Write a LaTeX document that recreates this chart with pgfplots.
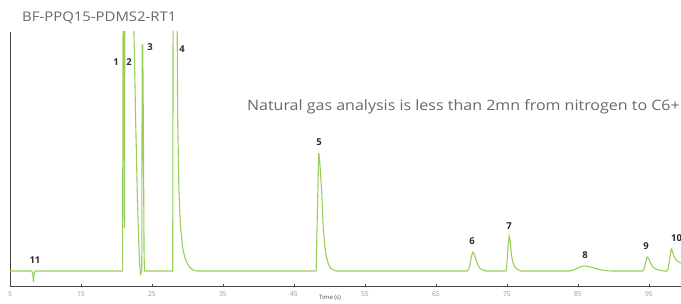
\documentclass[border=0pt]{standalone}
\usepackage{fontspec}
\setmainfont{Open Sans}
\newfontfamily\widefont[FakeStretch=1.12]{Open Sans}
\usepackage{pgfplots}
\pgfplotsset{compat=1.18}
\definecolor{trace}{RGB}{152,206,92}
\definecolor{axisgray}{RGB}{70,70,70}
\definecolor{ticklab}{RGB}{150,150,150}
\definecolor{titlegray}{RGB}{105,105,105}
\definecolor{labgray}{RGB}{45,45,45}
\begin{document}
\begin{tikzpicture}[x=1pt,y=1pt]
\path[use as bounding box] (0,0) rectangle (681,303);
\begin{axis}[
  at={(10pt,17pt)}, anchor=south west,
  scale only axis, width=671pt, height=254pt,
  xmin=5, xmax=99.51, ymin=-15, ymax=239,
  axis x line=bottom, axis y line=left,
  axis line style={-, draw=axisgray, line width=0.8pt},
  xtick={5,15,...,95}, ytick=\empty,
  major tick length=3pt, tick align=center,
  tick style={draw=axisgray, line width=0.6pt},
  xticklabel style={font=\fontsize{6.8}{8}\selectfont, text=ticklab, yshift=-1pt},
  /pgf/number format/assume math mode=true,
  clip mode=individual,
]
\addplot[trace, line width=1.1pt] coordinates {
(5,0) (8.05,0) (8.22,-3) (8.3,-11) (8.38,-3) (8.55,0)
(20.86,0) (20.94,300) (21.04,300) (21.12,43) (21.18,300)
(22.4,300) (22.46,239) (22.7,150) (22.95,72) (23.15,26) (23.3,2) (23.4,-3) (23.5,-1) (23.56,0)
(23.62,226) (23.7,226) (23.78,150) (23.88,20) (23.93,0)
(27.92,0) (27.98,300) (28.5,300) (28.62,150) (28.8,78) (29.0,46) (29.3,24) (29.6,14) (30.0,7) (30.4,3) (30.9,0.6) (31.4,0)
(47.95,0) (48.12,0.5) (48.3,60) (48.48,118) (48.6,112) (48.75,96) (48.9,80) (49.1,46) (49.35,24) (49.6,13) (49.9,6) (50.2,2.5) (50.8,0.3) (51.2,0)
(69.4,0) (69.6,1.5) (69.8,7) (70.0,15) (70.2,19) (70.4,17) (70.6,12) (70.9,6) (71.2,2.5) (71.6,0.8) (72,0)
(74.85,0) (74.95,3) (75.1,20) (75.3,35) (75.45,30) (75.6,18) (75.8,9) (76.1,4) (76.5,1.5) (77,0)
(83.8,0) (84.4,1) (85.0,3) (85.6,4.8) (86.0,5) (86.6,4.3) (87.3,2.8) (88.2,1.2) (89.2,0.2) (89.8,0)
(94.05,0) (94.3,2) (94.5,8) (94.75,14) (94.95,12.5) (95.2,8) (95.5,4.5) (95.9,2) (96.5,0.7) (97.2,0)
(97.5,0) (97.7,2) (97.9,11) (98.15,22) (98.3,20) (98.5,15) (98.8,11) (99.1,9.5) (99.51,8)
};
\begin{scope}[every node/.style={font=\bfseries\fontsize{9.5}{10}\selectfont, text=labgray}]
\node at (axis cs:8.52,11) {11};
\node at (axis cs:19.93,209) {1};
\node at (axis cs:21.76,209) {2};
\node at (axis cs:24.72,224) {3};
\node at (axis cs:29.23,222) {4};
\node at (axis cs:48.52,129) {5};
\node at (axis cs:70.07,30) {6};
\node at (axis cs:75.28,45) {7};
\node at (axis cs:85.99,16) {8};
\node at (axis cs:94.58,25) {9};
\node at (axis cs:98.9,33) {10};
\end{scope}
\end{axis}
\node[anchor=west, text=titlegray, font=\widefont\fontsize{13.3}{15}\selectfont, inner sep=0pt] at (22,285) {BF-PPQ15-PDMS2-RT1};
\node[anchor=east, text=titlegray, font=\widefont\fontsize{14.3}{16}\selectfont, inner sep=0pt] at (680,196) {Natural gas analysis is less than 2mn from nitrogen to C6+};
\node[text=axisgray, font=\fontsize{6}{7}\selectfont, inner sep=0pt] at (330,5) {Time (s)};
\end{tikzpicture}
\end{document}
